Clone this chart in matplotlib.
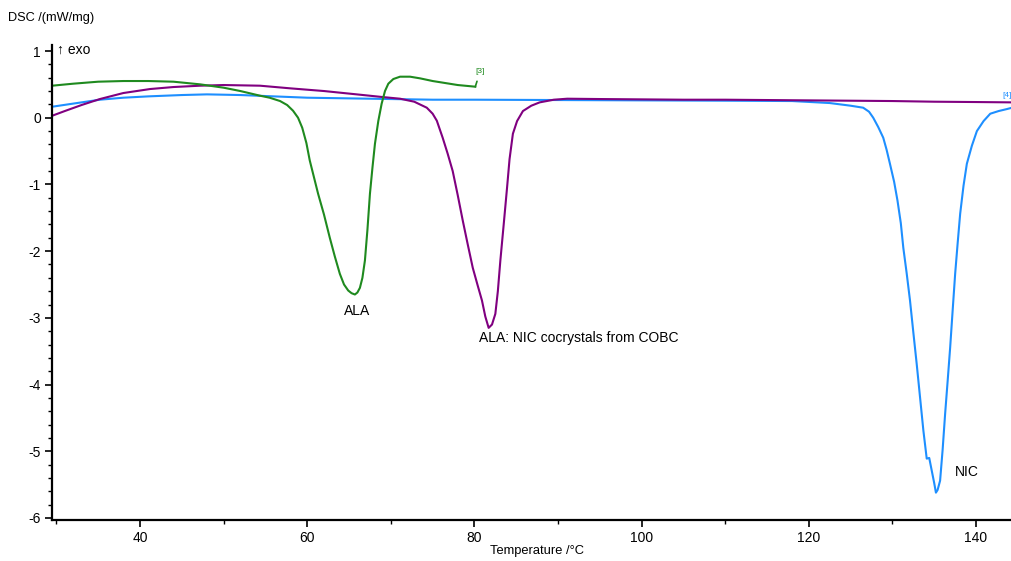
import matplotlib
matplotlib.use("Agg")
import matplotlib.pyplot as plt
from matplotlib.ticker import MultipleLocator

plt.rcParams['font.family'] = ['Liberation Sans', 'DejaVu Sans']

# ALA (green)
ala_T = [29.5, 32, 35, 38, 41, 44, 47.2, 50, 52, 54.35, 55.5, 56.75, 57.6, 58.3, 58.9, 59.4, 59.9,
         60.3, 61.3, 62.0, 62.7, 63.3, 63.9, 64.4, 64.9, 65.3, 65.7, 66.0, 66.3, 66.6, 66.9, 67.2,
         67.5, 67.8, 68.1, 68.5, 68.9, 69.3, 69.7, 70.3, 71.1, 72.3, 73.5, 75.0, 76.5, 78.0, 80.1]
ala_y = [0.48, 0.51, 0.54, 0.55, 0.55, 0.54, 0.50, 0.45, 0.40, 0.33, 0.30, 0.25, 0.19, 0.105, 0.0, -0.15, -0.38,
         -0.64, -1.14, -1.45, -1.80, -2.08, -2.34, -2.50, -2.59, -2.63, -2.65, -2.62, -2.55, -2.40, -2.14, -1.68,
         -1.14, -0.75, -0.39, -0.05, 0.21, 0.40, 0.51, 0.58, 0.615, 0.615, 0.59, 0.55, 0.52, 0.49, 0.465]

# ALA:NIC cocrystals (purple)
co_T = [29.5, 31, 33, 35.2, 38, 41.2, 44, 47.2, 50, 54.35, 58, 62, 66.3, 69, 71.1, 72.8, 74.3, 75.0, 75.5,
        76.2, 76.8, 77.4, 78.0, 78.6, 79.2, 79.8, 80.4, 80.9, 81.3, 81.7, 82.1, 82.5, 82.8, 83.1, 83.5,
        83.9, 84.2, 84.6, 85.1, 85.8, 86.8, 87.8, 89.5, 91.1, 95, 100, 105, 110, 115, 120, 125, 130,
        135, 140, 144.3]
co_y = [0.03, 0.10, 0.19, 0.28, 0.37, 0.43, 0.46, 0.48, 0.49, 0.48, 0.44, 0.40, 0.345, 0.31, 0.285, 0.24,
        0.15, 0.06, -0.045, -0.30, -0.54, -0.80, -1.16, -1.54, -1.90, -2.25, -2.52, -2.74, -2.98, -3.15,
        -3.10, -2.94, -2.60, -2.14, -1.60, -1.05, -0.62, -0.24, -0.05, 0.10, 0.18, 0.23, 0.27, 0.285, 0.28,
        0.275, 0.27, 0.27, 0.265, 0.26, 0.255, 0.25, 0.24, 0.235, 0.23]

# NIC (blue)
nic_T = [29.5, 33, 35.2, 38, 41, 45, 48, 52, 55, 60, 65, 70, 75, 80, 90, 100, 110, 118, 122.5, 125, 126.5,
         127.2, 127.7, 128.3, 128.9, 129.3, 129.7, 130.2, 130.6, 131.0, 131.3, 131.7, 132.1, 132.5, 132.9,
         133.3, 133.7, 134.1, 134.4, 134.7, 135.0, 135.2, 135.4, 135.7, 136.0, 136.3, 136.6, 136.9, 137.2,
         137.5, 137.8, 138.1, 138.5, 138.9, 139.5, 140.1, 140.9, 141.7, 142.7, 143.7, 144.3]
nic_y = [0.165, 0.23, 0.27, 0.30, 0.32, 0.34, 0.35, 0.34, 0.325, 0.30, 0.29, 0.28, 0.27, 0.27, 0.265, 0.26,
         0.255, 0.25, 0.22, 0.18, 0.15, 0.09, 0.0, -0.14, -0.30, -0.48, -0.69, -0.96, -1.24, -1.58, -1.95,
         -2.33, -2.74, -3.22, -3.69, -4.19, -4.69, -5.11, -5.10, -5.29, -5.48, -5.62, -5.58, -5.44, -4.98,
         -4.44, -3.95, -3.45, -2.89, -2.34, -1.88, -1.44, -1.02, -0.69, -0.42, -0.2, -0.05, 0.06, 0.10,
         0.13, 0.15]

green = '#1f8a1f'
purple = '#800080'
blue = '#1e8fff'

fig = plt.figure(figsize=(10.12, 5.61), dpi=100)
ax = fig.add_axes([52/1012, 41/561, 1 - 52/1012, (520 - 45)/561])

ax.plot(nic_T, nic_y, color=blue, lw=1.5)
ax.plot(co_T, co_y, color=purple, lw=1.5)
ax.plot(ala_T, ala_y, color=green, lw=1.5)

ax.set_xlim(29.47, 144.3)
ax.set_ylim(-6.03, 1.09)

for s in ['top', 'right']:
    ax.spines[s].set_visible(False)
for s in ['left', 'bottom']:
    ax.spines[s].set_linewidth(1.6)
    ax.spines[s].set_color('black')

ax.xaxis.set_major_locator(MultipleLocator(20))
ax.xaxis.set_minor_locator(MultipleLocator(10))
ax.yaxis.set_major_locator(MultipleLocator(1))
ax.yaxis.set_minor_locator(MultipleLocator(0.2))
ax.tick_params(which='major', length=5, width=1.2, labelsize=10, direction='out', pad=3)
ax.tick_params(which='minor', length=3, width=1.0, direction='out')
ax.set_yticks(range(-6, 2))
ax.set_yticklabels([str(v) for v in range(-6, 2)])

# annotations
ax.text(65.96, -2.89, 'ALA', fontsize=10, ha='center', va='center')
ax.text(80.55, -3.30, 'ALA: NIC cocrystals from COBC', fontsize=10, ha='left', va='center')
ax.text(137.5, -5.31, 'NIC', fontsize=10, ha='left', va='center')

ax.annotate('[3]', xy=(ala_T[-1], ala_y[-1]), xytext=(80.7, 0.70), fontsize=6, color=green,
            ha='center', va='center',
            arrowprops=dict(arrowstyle='-', color=green, lw=1.2, shrinkA=3, shrinkB=0))
ax.text(144.3, 0.33, '[4]', fontsize=6, color=blue, ha='right', va='center', clip_on=False)

fig.text(8/1012, 1 - 18/561, 'DSC /(mW/mg)', fontsize=9.2, ha='left', va='center')
fig.text(57/1012, 1 - 50/561, '↑ exo', fontsize=10, ha='left', va='center')
fig.text(537/1012, 1 - 551/561, 'Temperature /°C', fontsize=9.3, ha='center', va='center')

fig.savefig('out.png', dpi=100)
